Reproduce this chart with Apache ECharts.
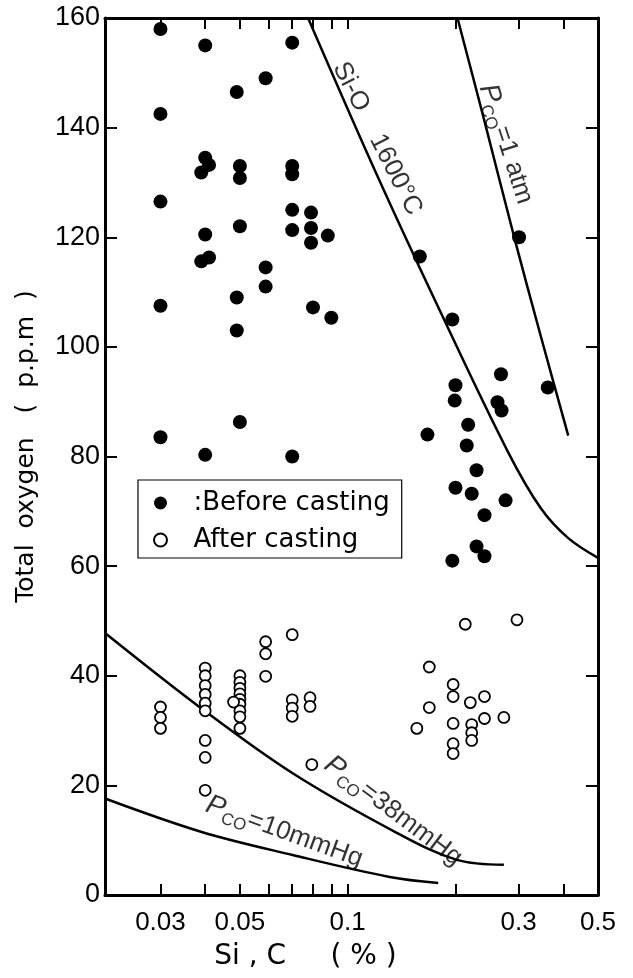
<!DOCTYPE html>
<html>
<head>
<meta charset="utf-8">
<script src="https://cdn.jsdelivr.net/npm/echarts@6/dist/echarts.min.js"></script>
<style>
    html, body { margin: 0; padding: 0; background: #fff; }
    #chart { width: 633px; height: 978px; }
</style>
</head>
<body>
<div id="chart"></div>
<script>
const chart = echarts.init(document.getElementById("chart"));
const FONT = '"Liberation Sans", Arial, sans-serif';
const WORD_FONT = '"DejaVu Sans", "Liberation Sans", sans-serif';

// Before casting (filled dots): Si,C (%) and total oxygen (ppm)
const beforeX = [0.030, 0.040, 0.070, 0.059, 0.049, 0.030, 0.040, 0.041, 0.039, 0.050,
    0.050, 0.070, 0.070, 0.030, 0.070, 0.079, 0.070, 0.079, 0.079, 0.088,
    0.050, 0.040, 0.039, 0.041, 0.059, 0.059, 0.049, 0.030, 0.049, 0.080,
    0.090, 0.030, 0.050, 0.040, 0.070, 0.301, 0.159, 0.196, 0.268, 0.362,
    0.200, 0.199, 0.262, 0.269, 0.167, 0.217, 0.215, 0.229, 0.200, 0.222,
    0.276, 0.241, 0.229, 0.241, 0.196];
const beforeY = [158, 155, 155.5, 149, 146.5, 142.5, 134.5, 133.2, 131.8, 133,
    130.8, 133, 131.5, 126.5, 125, 124.5, 121.3, 121.7, 119, 120.3,
    122, 120.5, 115.6, 116.3, 114.5, 111, 109, 107.5, 103, 107.2,
    105.3, 83.5, 86.3, 80.3, 80, 120, 116.5, 105, 95, 92.6,
    93, 90.2, 89.9, 88.4, 84, 85.8, 82, 77.5, 74.3, 73.2,
    72, 69.3, 63.6, 61.8, 61];

// After casting (open circles)
const afterX = [0.030, 0.030, 0.030,
    0.040, 0.040, 0.040, 0.040, 0.040, 0.040, 0.040, 0.040, 0.040,
    0.050, 0.050, 0.050, 0.050, 0.050, 0.050, 0.050, 0.050, 0.050, 0.048,
    0.059, 0.059, 0.059,
    0.070, 0.070, 0.070, 0.070,
    0.0785, 0.0785, 0.0794,
    0.297, 0.213, 0.169, 0.197, 0.197, 0.220, 0.241, 0.169, 0.241,
    0.273, 0.156, 0.197, 0.222, 0.222, 0.222, 0.197, 0.197];
const afterY = [34.3, 32.4, 30.4,
    41.4, 40, 38.2, 36.6, 35, 33.6, 28.2, 25.1, 19.1,
    40, 38.8, 37.7, 36.7, 35.7, 34.8, 33.6, 32.5, 30.4, 35.2,
    46.2, 44, 39.9,
    47.5, 35.6, 34.1, 32.6,
    36, 34.4, 23.8,
    50.2, 49.4, 41.6, 38.4, 36.2, 35.1, 36.2, 34.2, 32.2,
    32.4, 30.4, 31.3, 31.1, 29.6, 28.2, 27.6, 25.8];

// Equilibrium curves
const siOX = [0.0775, 0.1208, 0.1815, 0.280, 0.3467, 0.413, 0.5];
const siOY = [160, 131.3, 106.4, 80.9, 70.5, 65.1, 61.5];
const pco1X = [0.2026, 0.2425, 0.2907, 0.3467, 0.413];
const pco1Y = [160, 140.5, 120.4, 101.8, 83.8];
const pco38X = [0.021, 0.0391, 0.0702, 0.1375, 0.2018, 0.273];
const pco38Y = [47.8, 34, 22.2, 11.3, 6.4, 5.5];
const pco10X = [0.021, 0.0391, 0.0702, 0.131, 0.179];
const pco10Y = [17.6, 11.5, 7.3, 3.3, 2.2];

// Axis ticks and labels
const xTicks = [0.03, 0.04, 0.05, 0.06, 0.07, 0.08, 0.09, 0.1, 0.2, 0.3, 0.4, 0.5];
const xLabels = [0.03, 0.05, 0.1, 0.3, 0.5];

// Curve annotations (text, anchor in data space, angle)
const noteText = ["Si-O    1600°C", "{p|P}{s|CO}{t|=1 atm}", "{p|P}{s|CO}{t|=38mmHg}", "{p|P}{s|CO}{t|=10mmHg}"];
const noteAt = [[0.121, 138], [0.277, 137], [0.134, 15.3], [0.0665, 11.5]];
const noteAngle = [-63, -72, -37, -20];

function zip(xs, ys) {
    return xs.map((x, i) => [x, ys[i]]);
}

function curve(name, xs, ys) {
    return {
        name: name,
        type: "line",
        data: zip(xs, ys),
        smooth: 0.35,
        showSymbol: false,
        silent: true,
        lineStyle: { color: "#000", width: 2.5 },
        z: 2
    };
}

const richPco = {
    p: { fontFamily: FONT, fontSize: 28, fontStyle: "italic", color: "#000", lineHeight: 34, verticalAlign: "middle" },
    s: { fontFamily: FONT, fontSize: 17, color: "#000", lineHeight: 34, verticalAlign: "bottom" },
    t: { fontFamily: FONT, fontSize: 26, color: "#000", lineHeight: 34, verticalAlign: "middle" }
};

const notes = noteAt.map((pt, i) => ({
    value: pt,
    label: {
        show: true,
        position: "inside",
        rotate: noteAngle[i],
        formatter: noteText[i],
        fontFamily: FONT,
        fontSize: 26,
        color: "#000",
        rich: richPco
    }
}));

const axisLine = { show: true, onZero: false, lineStyle: { color: "#000", width: 3 } };

const xAxisBase = {
    type: "log",
    logBase: 10,
    min: 0.021,
    max: 0.5001,
    axisLine: axisLine,
    splitLine: { show: false },
    minorTick: { show: false },
    axisTick: {
        show: true,
        inside: true,
        length: 11,
        customValues: xTicks,
        lineStyle: { color: "#000", width: 2 }
    }
};

const yAxisBase = {
    type: "value",
    min: 0,
    max: 160,
    interval: 20,
    axisLine: axisLine,
    splitLine: { show: false },
    axisTick: {
        show: true,
        inside: true,
        length: 12,
        lineStyle: { color: "#000", width: 2 }
    }
};

const option = {
    backgroundColor: "#fff",
    animation: false,
    textStyle: { fontFamily: FONT, color: "#000" },
    grid: { left: 105, right: 35, top: 18, bottom: 83, containLabel: false },
    legend: {
        data: [":Before casting", "After casting"],
        orient: "vertical",
        left: 138,
        top: 480,
        padding: [8, 12, 3, 15],
        itemGap: 7,
        itemWidth: 20,
        itemHeight: 13,
        borderColor: "#000",
        borderWidth: 1.2,
        borderRadius: 0,
        selectedMode: false,
        textStyle: { fontFamily: WORD_FONT, fontSize: 26, lineHeight: 30, color: "#000", padding: [0, 0, 0, 18] }
    },
    xAxis: [
        Object.assign({}, xAxisBase, {
            position: "bottom",
            name: "Si , C     ( % )",
            nameLocation: "middle",
            nameGap: 48,
            nameTextStyle: { fontFamily: WORD_FONT, fontSize: 28, color: "#000", padding: [0, 92, 0, 0] },
            axisLabel: {
                show: true,
                customValues: xLabels,
                formatter: v => String(v),
                margin: 15,
                fontFamily: FONT,
                fontSize: 26,
                color: "#000"
            }
        }),
        Object.assign({}, xAxisBase, {
            position: "top",
            axisLabel: { show: false }
        })
    ],
    yAxis: [
        Object.assign({}, yAxisBase, {
            position: "left",
            name: "Total  oxygen   (  p.p.m  )",
            nameLocation: "middle",
            nameGap: 66,
            nameTextStyle: { fontFamily: WORD_FONT, fontSize: 25, color: "#000", padding: [0, 0, 0, 20] },
            axisLabel: { margin: 5, fontFamily: FONT, fontSize: 27, color: "#000" }
        }),
        Object.assign({}, yAxisBase, {
            position: "right",
            axisLabel: { show: false }
        })
    ],
    series: [
        curve("Si-O 1600", siOX, siOY),
        curve("Pco 1 atm", pco1X, pco1Y),
        curve("Pco 38mmHg", pco38X, pco38Y),
        curve("Pco 10mmHg", pco10X, pco10Y),
        {
            name: ":Before casting",
            type: "scatter",
            symbol: "circle",
            symbolSize: 14,
            itemStyle: { color: "#000", opacity: 1 },
            data: zip(beforeX, beforeY),
            z: 3
        },
        {
            name: "After casting",
            type: "scatter",
            symbol: "circle",
            symbolSize: 11,
            itemStyle: { color: "#fff", borderColor: "#000", borderWidth: 1.8, opacity: 1 },
            data: zip(afterX, afterY),
            z: 3
        },
        {
            name: "notes",
            type: "scatter",
            symbolSize: 0.1,
            silent: true,
            itemStyle: { color: "rgba(0,0,0,0)" },
            data: notes,
            z: 4
        }
    ]
};

chart.setOption(option);
window.addEventListener("resize", () => chart.resize());
</script>
</body>
</html>
